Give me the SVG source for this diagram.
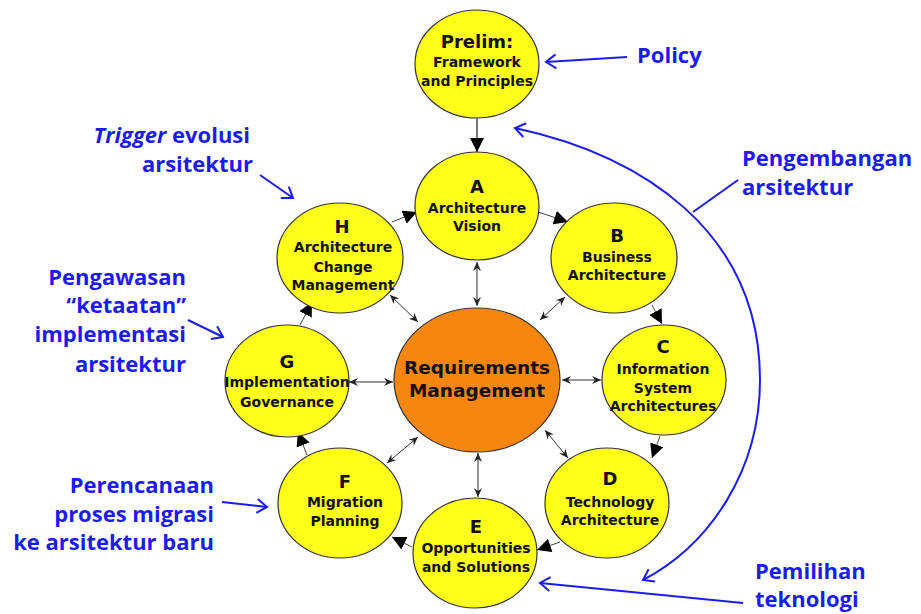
<svg xmlns="http://www.w3.org/2000/svg" width="921" height="614" viewBox="0 0 921 614">
<style>
.node{fill:#ffff1a;stroke:#333;stroke-width:1.2}
.core{fill:#f7860f;stroke:#333;stroke-width:1.2}
.t{font-family:"DejaVu Sans",Verdana,sans-serif;font-weight:bold;font-size:14px;fill:#111;text-anchor:middle}
.L{font-size:18px}
.big{font-size:18.5px}
.lab{font-family:"Open Sans","Liberation Sans",sans-serif;font-weight:bold;font-size:22px;fill:#1c1cf0}
.r{text-anchor:end}
.cyc{stroke:#444;stroke-width:1;fill:none;marker-end:url(#tri)}
.dbl{stroke:#333;stroke-width:1;fill:none;marker-start:url(#sm);marker-end:url(#sm)}
.blue{stroke:#1c1cf0;stroke-width:2;fill:none}
.ba{marker-end:url(#bhe)}
</style>
<defs>
<marker id="tri" markerUnits="userSpaceOnUse" markerWidth="15" markerHeight="14" refX="14" refY="7" orient="auto"><path d="M0,0 L14,7 L0,14 Z" fill="#000"/></marker>
<marker id="sm" markerUnits="userSpaceOnUse" markerWidth="10" markerHeight="10" refX="9" refY="5" orient="auto-start-reverse"><path d="M0,1 L9,5 L0,9 L3,5 Z" fill="#222"/></marker>
<marker id="bh" markerUnits="userSpaceOnUse" markerWidth="16" markerHeight="16" refX="2" refY="8" orient="auto"><path d="M12,1 L2,8 L12,15" fill="none" stroke="#1c1cf0" stroke-width="2"/></marker>
<marker id="bhe" markerUnits="userSpaceOnUse" markerWidth="16" markerHeight="16" refX="14" refY="8" orient="auto"><path d="M4,1 L14,8 L4,15" fill="none" stroke="#1c1cf0" stroke-width="2"/></marker>
</defs>
<rect width="921" height="614" fill="#fff"/>

<g id="connectors">
<line x1="477" y1="118" x2="477" y2="152" stroke="#777" stroke-width="2" marker-end="url(#tri)"/>
<line class="cyc" x1="538" y1="212" x2="568" y2="222"/>
<line class="cyc" x1="392" y1="222" x2="417" y2="212"/>
<line class="cyc" x1="652" y1="305" x2="662" y2="324"/>
<line class="cyc" x1="660" y1="436" x2="652" y2="458"/>
<line class="cyc" x1="560" y1="542" x2="537" y2="550"/>
<line class="cyc" x1="412" y1="547" x2="392" y2="537"/>
<line class="cyc" x1="307" y1="455" x2="298" y2="432"/>
<line class="cyc" x1="300" y1="325" x2="312" y2="302"/>
<line class="dbl" x1="477" y1="262" x2="477" y2="306"/>
<line class="dbl" x1="390" y1="295" x2="418" y2="322"/>
<line class="dbl" x1="349" y1="382" x2="393" y2="382"/>
<line class="dbl" x1="565" y1="297" x2="540" y2="320"/>
<line class="dbl" x1="562" y1="380" x2="601" y2="380"/>
<line class="dbl" x1="545" y1="430" x2="568" y2="458"/>
<line class="dbl" x1="478" y1="453" x2="478" y2="497"/>
<line class="dbl" x1="418" y1="437" x2="387" y2="463"/>

<line class="blue ba" x1="627" y1="57" x2="546" y2="62"/>
<path class="blue" d="M515,128 C640,155 760,230 760,380 C760,470 710,545 643,580" marker-start="url(#bh)" marker-end="url(#bhe)"/>
<line class="blue" x1="738" y1="180" x2="693" y2="212"/>
<line class="blue ba" x1="743" y1="603" x2="540" y2="583"/>
<line class="blue ba" x1="260" y1="175" x2="293" y2="198"/>
<line class="blue ba" x1="188" y1="320" x2="223" y2="337"/>
<line class="blue ba" x1="222" y1="502" x2="267" y2="507"/>
</g>

<g id="prelim"><ellipse class="node" cx="477" cy="64" rx="62" ry="54"/>
<text class="t L" x="477" y="48">Prelim:</text><text class="t" x="477" y="67">Framework</text><text class="t" x="477" y="86">and Principles</text></g>
<g id="A"><ellipse class="node" cx="477" cy="206" rx="62" ry="54"/>
<text class="t L" x="477" y="193">A</text><text class="t" x="477" y="213">Architecture</text><text class="t" x="477" y="231">Vision</text></g>
<g id="H"><ellipse class="node" cx="340" cy="258" rx="63" ry="55"/>
<text class="t L" x="342" y="233">H</text><text class="t" x="343" y="252">Architecture</text><text class="t" x="343" y="272">Change</text><text class="t" x="343" y="290">Management</text></g>
<g id="G"><ellipse class="node" cx="287" cy="381" rx="62" ry="56"/>
<text class="t L" x="287" y="368">G</text><text class="t" x="287" y="387">Implementation</text><text class="t" x="287" y="407">Governance</text></g>
<g id="B"><ellipse class="node" cx="614" cy="258" rx="63" ry="55"/>
<text class="t L" x="617" y="242">B</text><text class="t" x="617" y="262">Business</text><text class="t" x="617" y="280">Architecture</text></g>
<g id="C"><ellipse class="node" cx="664" cy="380" rx="62" ry="55"/>
<text class="t L" x="663" y="353">C</text><text class="t" x="663" y="374">Information</text><text class="t" x="663" y="393">System</text><text class="t" x="663" y="411">Architectures</text></g>
<g id="D"><ellipse class="node" cx="607" cy="503" rx="62" ry="55"/>
<text class="t L" x="610" y="485">D</text><text class="t" x="610" y="507">Technology</text><text class="t" x="610" y="525">Architecture</text></g>
<g id="E"><ellipse class="node" cx="475" cy="553" rx="62" ry="55"/>
<text class="t L" x="476" y="533">E</text><text class="t" x="476" y="553">Opportunities</text><text class="t" x="476" y="572">and Solutions</text></g>
<g id="F"><ellipse class="node" cx="340" cy="503" rx="62" ry="55"/>
<text class="t L" x="345" y="488">F</text><text class="t" x="345" y="507">Migration</text><text class="t" x="345" y="526">Planning</text></g>
<g id="RM"><ellipse class="core" cx="477" cy="380" rx="83" ry="72"/>
<text class="t big" x="477" y="374">Requirements</text><text class="t big" x="477" y="397">Management</text></g>

<g id="labels">
<text class="lab" x="637" y="63">Policy</text>
<text class="lab" x="742" y="166">Pengembangan</text>
<text class="lab" x="742" y="195">arsitektur</text>
<text class="lab" x="755" y="579">Pemilihan</text>
<text class="lab" x="755" y="607">teknologi</text>
<text class="lab r" x="250" y="143"><tspan font-style="italic">Trigger</tspan> evolusi</text>
<text class="lab r" x="253" y="172">arsitektur</text>
<text class="lab r" x="186" y="285">Pengawasan</text>
<text class="lab r" x="186" y="313">“ketaatan”</text>
<text class="lab r" x="186" y="342">implementasi</text>
<text class="lab r" x="186" y="372">arsitektur</text>
<text class="lab r" x="214" y="493">Perencanaan</text>
<text class="lab r" x="214" y="522">proses migrasi</text>
<text class="lab r" x="214" y="550">ke arsitektur baru</text>
</g>
</svg>
